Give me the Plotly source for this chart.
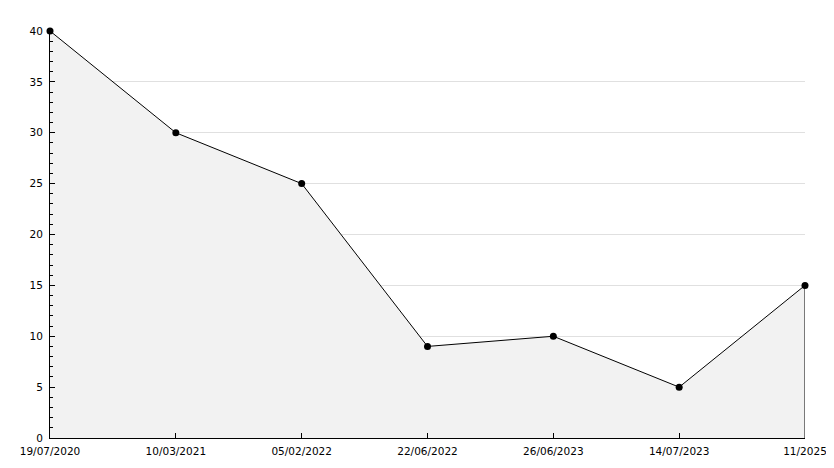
import plotly.graph_objects as go

dates = ["19/07/2020", "10/03/2021", "05/02/2022", "22/06/2022",
         "26/06/2023", "14/07/2023", "11/2025"]
values = [40, 30, 25, 9, 10, 5, 15]

font = dict(family="DejaVu Sans", size=10.5, color="#000000")

# the html page has an 8px body margin, so the figure is sized to fit inside it
fig = go.Figure()
fig.add_trace(
    go.Scatter(
        x=dates,
        y=values,
        mode="lines+markers",
        fill="tozeroy",
        fillcolor="#f2f2f2",
        line=dict(color="#000000", width=1),
        marker=dict(symbol="circle", size=7, color="#000000"),
        cliponaxis=False,
        showlegend=False,
        hoverinfo="x+y",
    )
)
# closing edge of the filled area at the last point
fig.add_trace(
    go.Scatter(
        x=[dates[-1], dates[-1]],
        y=[0, values[-1]],
        mode="lines",
        line=dict(color="#000000", width=1),
        cliponaxis=False,
        showlegend=False,
        hoverinfo="skip",
    )
)
fig.update_layout(
    width=826,
    height=460,
    margin=dict(l=42, r=29, t=23, b=30, autoexpand=False),
    paper_bgcolor="#ffffff",
    plot_bgcolor="#ffffff",
    font=font,
    xaxis=dict(
        type="category",
        range=[0, len(dates) - 1],
        automargin=False,
        showgrid=False,
        showline=True,
        linecolor="#000000",
        linewidth=1,
        ticks="inside",
        ticklen=5,
        tickcolor="#000000",
        zeroline=False,
        tickfont=font,
        ticklabelstandoff=3,
    ),
    yaxis=dict(
        range=[0, 40],
        dtick=5,
        automargin=False,
        showgrid=True,
        gridcolor="#e0e0e0",
        gridwidth=1,
        showline=True,
        linecolor="#000000",
        linewidth=1,
        ticks="inside",
        ticklen=5,
        tickcolor="#000000",
        zeroline=False,
        tickfont=font,
        ticklabelstandoff=4,
        minor=dict(dtick=1, ticks="inside", ticklen=3, tickcolor="#000000", showgrid=False),
    ),
)
fig.write_html("out.html")
